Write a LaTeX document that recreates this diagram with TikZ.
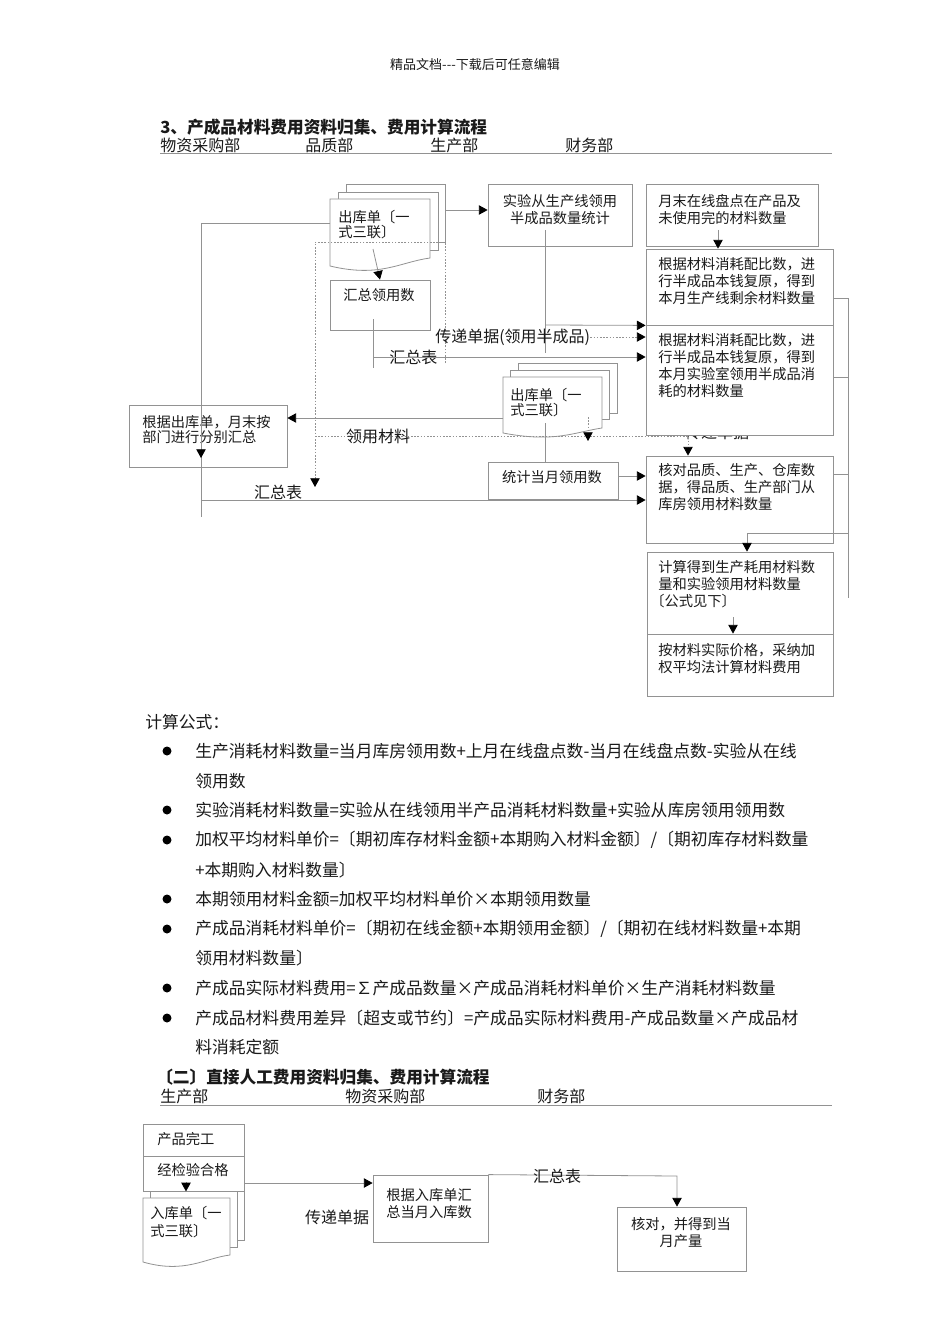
\documentclass[tikz,border=0pt]{standalone}
\usepackage{fontspec}
\newfontfamily\cjk{Noto Sans CJK SC}
\usetikzlibrary{arrows.meta,fit,calc}
\definecolor{lg}{HTML}{929292}
\definecolor{tx}{HTML}{1A1A1A}
\tikzset{
  bx/.style={draw=lg, fill=white, line width=0.6pt, inner sep=0pt},
  ln/.style={draw=lg, line width=0.6pt},
  docsh/.style={draw=lg, fill=white, line width=0.6pt},
  ar/.style={ln, -{Triangle[length=6.5pt,width=7pt,color=black]}},
  dl/.style={ln, dash pattern=on 1.2pt off 1.2pt},
  da/.style={dl, -{Triangle[length=6.5pt,width=7pt,color=black]}},
  bt/.style={font=\cjk\fontsize{10.7}{12.75}\selectfont, text=tx, align=left, inner sep=0pt, anchor=north west},
  bts/.style={bt, font=\cjk\fontsize{10.7}{11.25}\selectfont},
  lb/.style={font=\cjk\fontsize{12}{14}\selectfont, text=tx, inner sep=0pt},
  ft/.style={font=\cjk\fontsize{12.6}{14}\selectfont, text=tx, inner sep=0pt, anchor=west},
  ttl/.style={font=\cjk\bfseries\fontsize{12.5}{14}\selectfont, text=tx, inner sep=0pt, anchor=west},
}
\begin{document}
\begin{tikzpicture}[x=0.75pt,y=-0.75pt]
\fill[white] (0,0) rectangle (950,1344);
\useasboundingbox (0,0) rectangle (950,1344);

% header
\node[font=\cjk\fontsize{9.75}{11}\selectfont, text=tx, inner sep=0pt] (hdr) at (475,65) {精品文档---下载后可任意编辑};

% ===== section 1 =====
\node[ttl] (t1) at (160,127) {3、产成品材料费用资料归集、费用计算流程};
\node[lb, anchor=west] (d1) at (160,145) {物资采购部};
\node[lb, anchor=west] (d2) at (305,145) {品质部};
\node[lb, anchor=west] (d3) at (430,145) {生产部};
\node[lb, anchor=west] (d4) at (565,145) {财务部};
\draw[ln] (160,153) -- (832,153);

% hidden label under box
\node[lb] (hid) at (717,432) {传递单据};

% document stack 1
\draw[docsh] (346,184) rectangle (445,242);
\draw[docsh] (338,192) rectangle (438,250);
\draw[docsh] (330,199) -- (430,199) -- (430,258) .. controls (400,262) and (380,278) .. (330,266) -- cycle;
\node[fit={(330,184)(445,272)}, inner sep=0pt] (doc1) {};
\node[bts] (doc1t) at (338,210) {出库单〔一\\式三联〕};

\node[bx, fit={(330,280)(430,330)}] (sum1) {};
\node[bt] (sum1t) at (343,288) {汇总领用数};

\node[bx, fit={(488,184)(632,246)}] (exp) {};
\node[bt, anchor=north, align=center] (expt) at (560,194) {实验从生产线领用\\半成品数量统计};

\node[bx, fit={(646,184)(818,246)}] (yue) {};
\node[bt] (yuet) at (658,194) {月末在线盘点在产品及\\未使用完的材料数量};

\node[bx, fit={(646,249)(833,325)}] (big1) {};
\node[bt] (big1t) at (658,257) {根据材料消耗配比数，进\\行半成品本钱复原，得到\\本月生产线剩余材料数量};

\node[bx, fit={(646,325)(833,435)}] (big2) {};
\node[bt] (big2t) at (658,333) {根据材料消耗配比数，进\\行半成品本钱复原，得到\\本月实验室领用半成品消\\耗的材料数量};

% document stack 2
\draw[docsh] (518,363) rectangle (617,413);
\draw[docsh] (510,370) rectangle (609,419);
\draw[docsh] (503,377) -- (602,377) -- (602,428) .. controls (575,432) and (555,443) .. (503,433) -- cycle;
\node[fit={(503,363)(617,438)}, inner sep=0pt] (doc2) {};
\node[bts] (doc2t) at (510,388) {出库单〔一\\式三联〕};

\node[bx, fit={(129,405)(287,467)}] (fen) {};
\node[bts] (fent) at (142,415) {根据出库单，月末按\\部门进行分别汇总};

\node[bx, fit={(488,462)(618,499)}] (tong) {};
\node[bt, anchor=center] (tongt) at (552,477) {统计当月领用数};

\node[bx, fit={(646,456)(833,543)}] (he) {};
\node[bt] (het) at (658,463) {核对品质、生产、仓库数\\据，得品质、生产部门从\\库房领用材料数量};

\node[bx, fit={(647,552)(833,634)}] (calc) {};
\node[bt] (calct) at (658,560) {计算得到生产耗用材料数\\量和实验领用材料数量\\\hspace*{-6pt}〔公式见下〕};

\node[bx, fit={(647,634)(833,696)}] (price) {};
\node[bt] (pricet) at (658,643) {按材料实际价格，采纳加\\权平均法计算材料费用};

% connectors section 1
\draw[ar] (doc1.east |- 0,210) -- (exp.west |- 0,210);
\draw[ar] (373,249) -- (sum1.north);
\draw[ar] (718,230) -- (big1.north -| 718,0);
\draw[da] (445,363) -- (445,242) -- (315,242) -- (315,487);
\draw[ln] (545,230) -- (545,353);
\draw[ar] (545,325) -- (big1.south west);
\node[lb, anchor=west] (l1) at (435,337) {传递单据(领用半成品)};
\draw[da] (l1.east) -- (big2.west |- 0,337);
\draw[ln] (373,319) -- (373,368);
\node[lb, anchor=west] (l2) at (389,357) {汇总表};
\draw[ar] (373,357) -- (big2.west |- 0,357);
\draw[ar] (503,418) -- (fen.east |- 0,418);
\draw[ln] (330,223) -- (201,223) -- (201,517);
\draw[ar] (201,445) -- (201,458);
\draw[ar] (201,500) -- (he.west |- 0,500);
\node[lb] (l3) at (278,492) {汇总表};
\draw[da] (315,436) -- (688,436) -- (he.north -| 688,0);
\node[lb] (l4) at (378,436) {领用材料};
\draw[da] (588,417) -- (588,441);
\draw[ln] (545,423) -- (tong.north -| 545,0);
\draw[ar] (tong.east |- 0,476) -- (he.west |- 0,476);
\draw[ar] (747,533) -- (calc.north -| 747,0);
\draw[ar] (733,617) -- (price.north -| 733,0);
\draw[ln] (833,298) -- (848,298) -- (848,598);
\draw[ln] (833,377) -- (848,377);
\draw[ln] (833,474) -- (848,474);
\draw[ln] (747,533) -- (848,533);

% ===== formulas =====
\node[ft] (f0) at (145,722) {计算公式：};
\foreach \yy in {751,810,840,899,929,988,1018} \fill[black] (167,\yy) circle (4.5);
\node[ft] (f1) at (195,751) {生产消耗材料数量=当月库房领用数+上月在线盘点数-当月在线盘点数-实验从在线};
\node[ft] (f1b) at (195,781) {领用数};
\node[ft] (f2) at (195,810) {实验消耗材料数量=实验从在线领用半产品消耗材料数量+实验从库房领用领用数};
\node[ft] (f3) at (195,840) {加权平均材料单价=〔期初库存材料金额+本期购入材料金额〕/〔期初库存材料数量};
\node[ft] (f3b) at (195,870) {+本期购入材料数量〕};
\node[ft] (f4) at (195,899) {本期领用材料金额=加权平均材料单价×本期领用数量};
\node[ft] (f5) at (195,929) {产成品消耗材料单价=〔期初在线金额+本期领用金额〕/〔期初在线材料数量+本期};
\node[ft] (f5b) at (195,958) {领用材料数量〕};
\node[ft] (f6) at (195,988) {产成品实际材料费用=∑产成品数量×产成品消耗材料单价×生产消耗材料数量};
\node[ft] (f7) at (195,1018) {产成品材料费用差异〔超支或节约〕=产成品实际材料费用-产成品数量×产成品材};
\node[ft] (f7b) at (195,1047) {料消耗定额};

% ===== section 2 =====
\node[ttl] (t2) at (156,1077) {〔二〕直接人工费用资料归集、费用计算流程};
\node[lb, anchor=west] (e1) at (160,1096) {生产部};
\node[lb, anchor=west] (e2) at (345,1096) {物资采购部};
\node[lb, anchor=west] (e3) at (537,1096) {财务部};
\draw[ln] (160,1105) -- (832,1105);

% document stack 3
\draw[docsh] (157,1185) rectangle (244,1240);
\draw[docsh] (150,1191) rectangle (237,1247);
\draw[docsh] (143,1198) -- (230,1198) -- (230,1255) .. controls (205,1258) and (185,1274) .. (143,1262) -- cycle;
\node[fit={(143,1185)(244,1270)}, inner sep=0pt] (doc3) {};
\node[bt, font=\cjk\fontsize{10.7}{13.5}\selectfont] (doc3t) at (150,1206) {入库单〔一\\式三联〕};

\node[bx, fit={(143,1124)(244,1156)}] (pw) {};
\node[bt] (pwt) at (157,1132) {产品完工};
\node[bx, fit={(143,1156)(244,1191)}] (jy) {};
\node[bt] (jyt) at (157,1163) {经检验合格};
\draw[ar] (186,1182) -- (jy.south -| 186,0);

\node[bx, fit={(373,1175)(488,1242)}] (rk) {};
\node[bt] (rkt) at (386,1188) {根据入库单汇\\总当月入库数};

\node[bx, fit={(617,1207)(746,1271)}] (hd) {};
\node[bt, anchor=north, align=center] (hdt) at (681,1217) {核对，并得到当\\月产量};

\draw[ar] (jy.east |- 0,1183) -- (rk.west |- 0,1183);
\node[lb] (l5) at (337,1217) {传递单据};
\draw[ar] (rk.north east) -- (677,1176) -- (hd.north -| 677,0);
\node[lb] (l6) at (557,1176) {汇总表};
\end{tikzpicture}
\end{document}
